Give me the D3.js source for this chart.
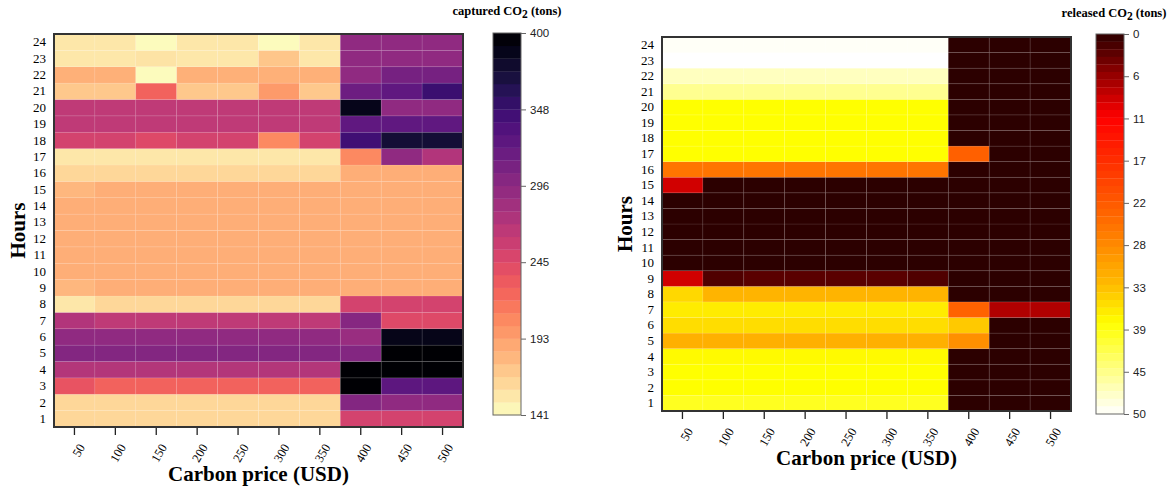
<!DOCTYPE html>
<html>
<head>
<meta charset="utf-8">
<script src="https://cdn.jsdelivr.net/npm/d3@7"></script>
<style>
  body { margin: 0; background: #fff; }
  svg { display: block; }
</style>
</head>
<body>
<svg id="chart" width="1175" height="495"></svg>
<script>
// categories
const prices = [50, 100, 150, 200, 250, 300, 350, 400, 450, 500];
const hours = [1, 2, 3, 4, 5, 6, 7, 8, 9, 10, 11, 12, 13, 14, 15, 16, 17, 18, 19, 20, 21, 22, 23, 24];

// captured CO2 (tons), one row per hour (1..24), one value per carbon price
const captured = [
  [163, 163, 163, 163, 163, 163, 163, 252, 252, 252],
  [163, 163, 163, 163, 163, 163, 163, 302, 294, 294],
  [237, 226, 226, 226, 226, 226, 226, 400, 327, 327],
  [272, 272, 272, 272, 272, 272, 272, 400, 400, 400],
  [302, 302, 302, 302, 302, 302, 302, 302, 400, 400],
  [294, 294, 294, 294, 294, 294, 294, 288, 388, 388],
  [273, 265, 265, 265, 265, 265, 265, 300, 245, 245],
  [154, 163, 163, 163, 163, 163, 163, 252, 252, 252],
  [180, 185, 185, 185, 185, 185, 185, 185, 185, 185],
  [185, 185, 185, 185, 185, 185, 185, 185, 185, 185],
  [185, 185, 185, 185, 185, 185, 185, 185, 185, 185],
  [185, 185, 185, 185, 185, 185, 185, 185, 185, 185],
  [185, 185, 185, 185, 185, 185, 185, 185, 185, 185],
  [185, 185, 185, 185, 185, 185, 185, 185, 185, 185],
  [180, 185, 185, 185, 185, 185, 185, 185, 185, 185],
  [163, 163, 163, 163, 163, 163, 163, 185, 185, 185],
  [154, 154, 154, 154, 154, 154, 154, 205, 294, 273],
  [252, 252, 245, 252, 252, 205, 252, 345, 374, 374],
  [265, 265, 265, 265, 265, 265, 265, 325, 325, 325],
  [265, 265, 265, 265, 265, 265, 265, 387, 294, 294],
  [171, 171, 226, 171, 171, 196, 171, 317, 325, 348],
  [184, 184, 143, 184, 184, 184, 184, 294, 310, 310],
  [154, 154, 156, 154, 154, 172, 154, 294, 294, 294],
  [154, 154, 143, 154, 154, 143, 154, 294, 294, 294]
];

// released CO2 (tons), same layout
const released = [
  [39.5, 39.5, 39.5, 39.5, 39.5, 39.5, 39.5, 0, 0, 0],
  [38, 38, 38, 38, 38, 38, 38, 0, 0, 0],
  [38, 38, 38, 38, 38, 38, 38, 0, 0, 0],
  [37.6, 37.6, 37.6, 37.6, 37.6, 37.6, 37.6, 0, 0, 0],
  [31.8, 31.8, 31.8, 31.8, 31.8, 31.8, 31.8, 28.4, 0, 0],
  [35.5, 35.5, 35.5, 35.5, 35.5, 35.5, 35.5, 34, 0, 0],
  [36.6, 36.6, 36.6, 36.6, 36.6, 36.6, 36.6, 23.3, 6.9, 6.9],
  [35.1, 32.3, 32.3, 32.3, 32.3, 32.3, 32.3, 0, 0, 0],
  [8.6, 1.9, 2.4, 2.4, 2.4, 2.4, 1.9, 0, 0, 0],
  [0, 0, 0, 0, 0, 0, 0, 0, 0, 0],
  [0, 0, 0, 0, 0, 0, 0, 0, 0, 0],
  [0, 0, 0, 0, 0, 0, 0, 0, 0, 0],
  [0, 0, 0, 0, 0, 0, 0, 0, 0, 0],
  [0, 0, 0, 0, 0, 0, 0, 0, 0, 0],
  [8.6, 0, 0, 0, 0, 0, 0, 0, 0, 0],
  [25.5, 25.5, 25.5, 25.5, 25.5, 25.5, 25.5, 0, 0, 0],
  [38, 38, 38, 38, 38, 38, 38, 23, 0, 0],
  [38, 38, 38, 38, 38, 38, 38, 0, 0, 0],
  [38, 38, 38, 38, 38, 38, 38, 0, 0, 0],
  [38, 38, 38, 38, 38, 38, 38, 0, 0, 0],
  [44.8, 44.8, 44.8, 44.8, 44.8, 44.8, 44.8, 0, 0, 0],
  [47, 47, 47, 47, 47, 47, 47, 0, 0, 0],
  [50, 50, 50, 50, 50, 50, 50, 0, 0, 0],
  [49.6, 49.6, 49.6, 49.6, 49.6, 49.6, 49.6, 0, 0, 0]
];

// colorbar tick labels
const capturedTicks = ['141', '193', '245', '296', '348', '400'];
const releasedTicks = ['0', '6', '11', '17', '22', '28', '33', '39', '45', '50'];

const SERIF = '"Liberation Serif", "DejaVu Serif", serif';
const SANS = '"Liberation Sans", Arial, sans-serif';

const svg = d3.select('#chart');

// magma, reversed: low = light, high = black
const capturedColor = d3.scaleSequential(t => d3.interpolateMagma(1 - t)).domain([141, 400]);
// heat-like map: 0 = dark maroon, 50 = white
const releasedColor = d3.scaleLinear()
  .domain([0, 11, 25, 33, 38, 50])
  .range(['#2c0000', '#ff0000', '#ff7000', '#ffbb00', '#ffff00', '#ffffff'])
  .clamp(true);

function drawPanel(cfg) {
  const g = svg.append('g');
  const { x0, y0, w, h } = cfg.frame;

  const x = d3.scaleBand().domain(prices).range([x0, x0 + w]);
  const y = d3.scaleBand().domain(hours).range([y0 + h, y0]);

  // cells
  const cells = [];
  cfg.values.forEach((row, i) => row.forEach((v, j) => cells.push({ hour: hours[i], price: prices[j], v })));
  g.append('g').selectAll('rect')
    .data(cells)
    .join('rect')
    .attr('x', d => x(d.price))
    .attr('y', d => y(d.hour))
    .attr('width', x.bandwidth())
    .attr('height', y.bandwidth())
    .attr('fill', d => cfg.color(d.v))
    .attr('stroke', 'rgba(255,255,255,0.1)')
    .attr('stroke-width', 0.8);

  // frame
  g.append('rect')
    .attr('x', x0).attr('y', y0).attr('width', w).attr('height', h)
    .attr('fill', 'none').attr('stroke', '#333').attr('stroke-width', 2);

  // x axis
  const xAxis = g.append('g')
    .attr('transform', `translate(0,${y0 + h + 1})`)
    .call(d3.axisBottom(x).tickSize(7));
  xAxis.select('.domain').remove();
  xAxis.selectAll('line').attr('stroke', '#222').attr('stroke-width', 1.3);
  xAxis.selectAll('text')
    .attr('x', 0).attr('y', 0).attr('dy', 0)
    .attr('transform', 'translate(11,19) rotate(-60)')
    .attr('text-anchor', 'end')
    .attr('fill', '#000')
    .style('font-family', SERIF)
    .style('font-size', '12.5px');

  // y axis
  const yAxis = g.append('g')
    .attr('transform', `translate(${x0},0)`)
    .call(d3.axisLeft(y).tickSize(0).tickPadding(8));
  yAxis.select('.domain').remove();
  yAxis.selectAll('text')
    .attr('fill', '#000')
    .style('font-family', SERIF)
    .style('font-size', '13px');

  // axis titles
  g.append('text')
    .attr('x', x0 + w / 2).attr('y', cfg.xLabelY)
    .attr('text-anchor', 'middle')
    .style('font-family', SERIF).style('font-size', '21px').style('font-weight', 'bold')
    .text('Carbon price (USD)');

  g.append('text')
    .attr('transform', `translate(${cfg.yLabelX},${y0 + h / 2}) rotate(-90)`)
    .attr('text-anchor', 'middle')
    .style('font-family', SERIF).style('font-size', '21px').style('font-weight', 'bold')
    .text('Hours');

  // colorbar
  const cb = cfg.cbar;
  const nBands = cb.bands;
  const [lo, hi] = cb.domain;
  const cbScale = d3.scaleLinear().domain(cb.reverse ? [lo, hi] : [hi, lo]).range([cb.y, cb.y + cb.h]);
  const bandVals = d3.range(nBands).map(i => lo + (i + 0.5) * (hi - lo) / nBands);
  const step = (hi - lo) / nBands;
  g.append('g').selectAll('rect')
    .data(bandVals)
    .join('rect')
    .attr('x', cb.x)
    .attr('y', d => Math.min(cbScale(d - step / 2), cbScale(d + step / 2)))
    .attr('width', cb.w)
    .attr('height', Math.abs(cbScale(lo + step) - cbScale(lo)) + 0.3)
    .attr('fill', d => cfg.color(d));
  g.append('rect')
    .attr('x', cb.x).attr('y', cb.y).attr('width', cb.w).attr('height', cb.h)
    .attr('fill', 'none').attr('stroke', '#666').attr('stroke-width', 1);

  const tickVals = cb.ticks.map((t, i) => lo + i * (hi - lo) / (cb.ticks.length - 1));
  const cbAxis = g.append('g')
    .attr('transform', `translate(${cb.x + cb.w},0)`)
    .call(d3.axisRight(cbScale).tickValues(tickVals).tickSize(5).tickPadding(4)
      .tickFormat((d, i) => cb.ticks[i]));
  cbAxis.select('.domain').remove();
  cbAxis.selectAll('line').attr('stroke', '#666');
  cbAxis.selectAll('text')
    .attr('fill', '#222')
    .style('font-family', SANS)
    .style('font-size', '11.5px');

  // colorbar title with subscript
  const title = g.append('text')
    .attr('x', cfg.titleX).attr('y', cfg.titleY)
    .attr('text-anchor', 'middle')
    .style('font-family', SERIF).style('font-size', '12.5px').style('font-weight', 'bold');
  title.append('tspan').text(cfg.titleWord + ' CO');
  title.append('tspan').attr('dy', 3).style('font-size', '11.5px').text('2');
  title.append('tspan').attr('dy', -3).text(' (tons)');
}

drawPanel({
  values: captured,
  color: capturedColor,
  frame: { x0: 54, y0: 34, w: 409, h: 393 },
  xLabelY: 481,
  yLabelX: 25,
  cbar: { x: 493, y: 33, w: 28, h: 382, bands: 30, domain: [141, 400], ticks: capturedTicks, reverse: false },
  titleWord: 'captured',
  titleX: 507,
  titleY: 15
});

drawPanel({
  values: released,
  color: releasedColor,
  frame: { x0: 662, y0: 37, w: 409, h: 374 },
  xLabelY: 465,
  yLabelX: 632,
  cbar: { x: 1096, y: 34, w: 28, h: 380, bands: 50, domain: [0, 50], ticks: releasedTicks, reverse: true },
  titleWord: 'released',
  titleX: 1114,
  titleY: 17
});
</script>
</body>
</html>
